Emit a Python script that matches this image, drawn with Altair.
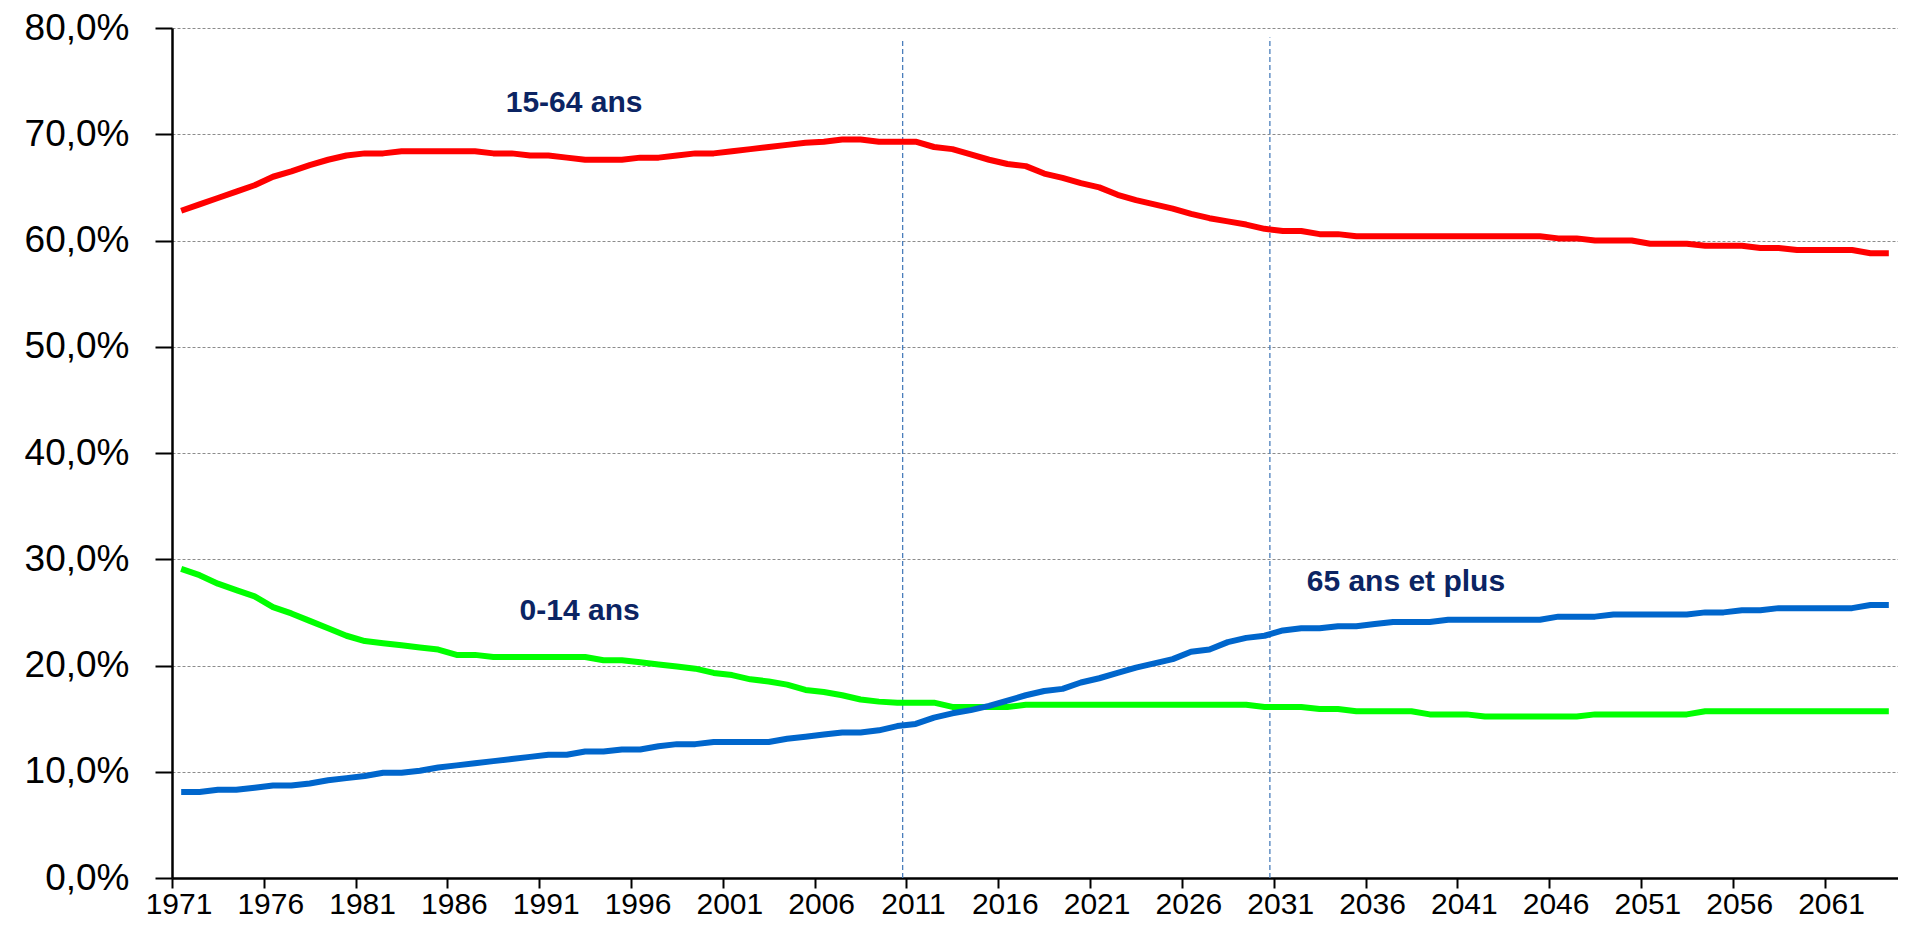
import altair as alt
import pandas as pd

# ---- data ----
years = list(range(1971, 2065))

pop_15_64 = [
    62.8, 63.4, 64.0, 64.6, 65.2, 66.0, 66.5, 67.1, 67.6, 68.0,   # 1971-1980
    68.2, 68.2, 68.4, 68.4, 68.4, 68.4, 68.4, 68.2, 68.2, 68.0,   # 1981-1990
    68.0, 67.8, 67.6, 67.6, 67.6, 67.8, 67.8, 68.0, 68.2, 68.2,   # 1991-2000
    68.4, 68.6, 68.8, 69.0, 69.2, 69.3, 69.5, 69.5, 69.3, 69.3,   # 2001-2010
    69.3, 68.8, 68.6, 68.1, 67.6, 67.2, 67.0, 66.3, 65.9, 65.4,   # 2011-2020
    65.0, 64.3, 63.8, 63.4, 63.0, 62.5, 62.1, 61.8, 61.5, 61.1,   # 2021-2030
    60.9, 60.9, 60.6, 60.6, 60.4, 60.4, 60.4, 60.4, 60.4, 60.4,   # 2031-2040
    60.4, 60.4, 60.4, 60.4, 60.4, 60.2, 60.2, 60.0, 60.0, 60.0,   # 2041-2050
    59.7, 59.7, 59.7, 59.5, 59.5, 59.5, 59.3, 59.3, 59.1, 59.1,   # 2051-2060
    59.1, 59.1, 58.8, 58.8,                                       # 2061-2064
]

pop_0_14 = [
    29.1, 28.5, 27.7, 27.1, 26.5, 25.5, 24.9, 24.2, 23.5, 22.8,   # 1971-1980
    22.3, 22.1, 21.9, 21.7, 21.5, 21.0, 21.0, 20.8, 20.8, 20.8,   # 1981-1990
    20.8, 20.8, 20.8, 20.5, 20.5, 20.3, 20.1, 19.9, 19.7, 19.3,   # 1991-2000
    19.1, 18.7, 18.5, 18.2, 17.7, 17.5, 17.2, 16.8, 16.6, 16.5,   # 2001-2010
    16.5, 16.5, 16.1, 16.1, 16.1, 16.1, 16.3, 16.3, 16.3, 16.3,   # 2011-2020
    16.3, 16.3, 16.3, 16.3, 16.3, 16.3, 16.3, 16.3, 16.3, 16.1,   # 2021-2030
    16.1, 16.1, 15.9, 15.9, 15.7, 15.7, 15.7, 15.7, 15.4, 15.4,   # 2031-2040
    15.4, 15.2, 15.2, 15.2, 15.2, 15.2, 15.2, 15.4, 15.4, 15.4,   # 2041-2050
    15.4, 15.4, 15.4, 15.7, 15.7, 15.7, 15.7, 15.7, 15.7, 15.7,   # 2051-2060
    15.7, 15.7, 15.7, 15.7,                                       # 2061-2064
]

pop_65_plus = [
    8.1, 8.1, 8.3, 8.3, 8.5, 8.7, 8.7, 8.9, 9.2, 9.4,             # 1971-1980
    9.6, 9.9, 9.9, 10.1, 10.4, 10.6, 10.8, 11.0, 11.2, 11.4,      # 1981-1990
    11.6, 11.6, 11.9, 11.9, 12.1, 12.1, 12.4, 12.6, 12.6, 12.8,   # 1991-2000
    12.8, 12.8, 12.8, 13.1, 13.3, 13.5, 13.7, 13.7, 13.9, 14.3,   # 2001-2010
    14.5, 15.1, 15.5, 15.8, 16.2, 16.7, 17.2, 17.6, 17.8, 18.4,   # 2011-2020
    18.8, 19.3, 19.8, 20.2, 20.6, 21.3, 21.5, 22.2, 22.6, 22.8,   # 2021-2030
    23.3, 23.5, 23.5, 23.7, 23.7, 23.9, 24.1, 24.1, 24.1, 24.3,   # 2031-2040
    24.3, 24.3, 24.3, 24.3, 24.3, 24.6, 24.6, 24.6, 24.8, 24.8,   # 2041-2050
    24.8, 24.8, 24.8, 25.0, 25.0, 25.2, 25.2, 25.4, 25.4, 25.4,   # 2051-2060
    25.4, 25.4, 25.7, 25.7,                                       # 2061-2064
]

series_names = ["15-64 ans", "0-14 ans", "65 ans et plus"]
series_colors = ["#FF0000", "#00FF00", "#0066CC"]

x_tick_years = list(range(1971, 2062, 5))
y_tick_values = [0, 10, 20, 30, 40, 50, 60, 70, 80]

# annotations (label, year position, value at text baseline)
annot_labels = ["15-64 ans", "0-14 ans", "65 ans et plus"]
annot_years = [1992.4, 1992.7, 2037.7]
annot_values = [72.1, 24.3, 27.0]

# vertical dashed markers
marker_years = [2011, 2031]
marker_tops = [78.8, 79.1]

# ---- build tables ----
series_values = [pop_15_64, pop_0_14, pop_65_plus]

x_scale = alt.Scale(domain=[1970.5, 2064.5], nice=False, zero=False)
y_scale = alt.Scale(domain=[0, 80], nice=False, zero=True)

x_axis = alt.Axis(
    values=x_tick_years, format="d", title=None, grid=False,
    tickOffset=-9.18, labelOffset=6.5,
    labelFont="Liberation Sans", labelFontSize=30, labelColor="black",
    labelFlush=False, labelOverlap=False, labelPadding=1,
    tickSize=10, tickWidth=2, tickColor="black",
    domainColor="black", domainWidth=2.5,
)
y_axis = alt.Axis(
    values=y_tick_values, title=None,
    labelExpr="replace(format(datum.value, '.1f'), '.', ',') + '%'",
    labelFont="Liberation Sans", labelFontSize=37, labelColor="black",
    labelPadding=26, labelFlush=False,
    tickSize=17, tickWidth=2, tickColor="black",
    domainColor="black", domainWidth=2.5,
    grid=True, gridColor="#8c8c8c", gridDash=[3, 2], gridWidth=1,
)

layers = []

# axes layer (invisible points to carry axes)
axis_df = pd.DataFrame({"year": years, "value": pop_15_64})
base_axes = alt.Chart(axis_df).mark_point(opacity=0).encode(
    x=alt.X("year:Q", scale=x_scale, axis=x_axis),
    y=alt.Y("value:Q", scale=y_scale, axis=y_axis),
)
layers.append(base_axes)

# vertical dashed markers
mk_df = pd.DataFrame({"year": marker_years, "top": marker_tops, "bottom": [0, 0]})
markers = alt.Chart(mk_df).mark_rule(
    color="#4a7ebb", strokeWidth=1.3, strokeDash=[5, 3], xOffset=-13
).encode(
    x=alt.X("year:Q", scale=x_scale),
    y=alt.Y("bottom:Q", scale=y_scale),
    y2="top:Q",
)
layers.append(markers)

for name, vals, col in zip(series_names, series_values, series_colors):
    df = pd.DataFrame({"year": years, "value": vals, "serie": name})
    ln = alt.Chart(df).mark_line(
        color=col, strokeWidth=6, strokeJoin="round", strokeCap="butt"
    ).encode(
        x=alt.X("year:Q", scale=x_scale),
        y=alt.Y("value:Q", scale=y_scale),
    )
    layers.append(ln)

ann_df = pd.DataFrame({"label": annot_labels, "year": annot_years, "value": annot_values})
texts = alt.Chart(ann_df).mark_text(
    font="Liberation Sans", fontSize=30, fontWeight="bold", color="#0b2463",
    align="center", baseline="alphabetic"
).encode(
    x=alt.X("year:Q", scale=x_scale),
    y=alt.Y("value:Q", scale=y_scale),
    text="label:N",
)
layers.append(texts)

chart = alt.layer(*layers).properties(
    width=1726,
    height=850,
    autosize=alt.AutoSizeParams(type="none"),
    padding={"left": 164, "top": 20, "right": 0, "bottom": 42},
    background="white",
).configure_view(stroke=None)

chart.save("out.html", embed_options={"renderer": "svg", "actions": False})
